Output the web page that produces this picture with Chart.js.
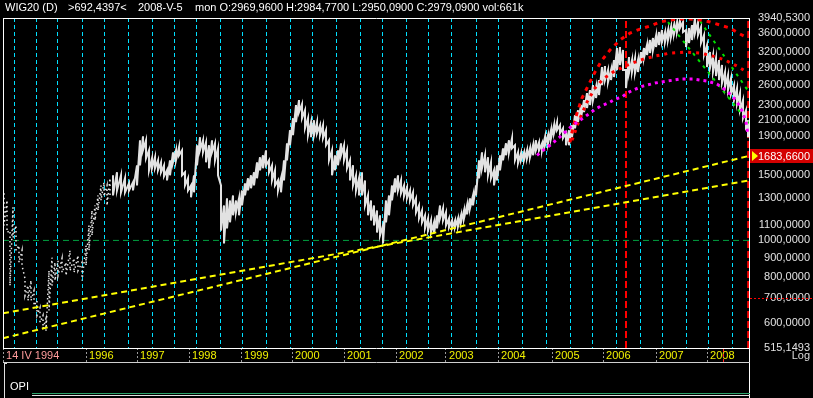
<!DOCTYPE html>
<html><head><meta charset="utf-8">
<script src="https://cdn.jsdelivr.net/npm/chart.js@4/dist/chart.umd.min.js"></script>
<style>html,body{margin:0;padding:0;background:#000;overflow:hidden}canvas{display:block}</style>
</head><body>
<canvas id="c" width="813" height="398"></canvas>
<script>
const FONT = '"Liberation Sans", Arial, sans-serif';

// x unit: trading session index counted from 14 IV 1994
const yearTicks  = [0, 415, 670, 930, 1190, 1445, 1705, 1965, 2215, 2475, 2745, 3000, 3265, 3520, 3730];
const yearLabels = [' 14 IV 1994',' 1996',' 1997',' 1998',' 1999',' 2000',' 2001',' 2002',' 2003',' 2004',' 2005',' 2006',' 2007',' 2008',''];
const gridTicks  = [55,165,275,395,505,625,745,855,965,1085,1195,1315,1435,1545,1665,1785,1895,2015,2125,2245,2365,2475,2595,2715,2835,2945,3065,3185,3295,3415,3525,3645];
const priceTicks = [515.1493, 600, 700, 800, 900, 1000, 1100, 1300, 1500, 1900, 2100, 2300, 2600, 2900, 3200, 3600, 3940.53];
const lastMarked = 1683.66;
const cursorSession = 3600;

// early sparse sessions (1994-1995)
const earlySess = [5,20,35,50,65,80,95,110,125,140,155,170,185,200,215,230,245,260,275,295,315,335,355,375,395,415,430,445,460,475,490,505,520,535];
const earlyHigh = [1337,1280,1063,1226,1097,969,940,790,757,781,734,690,661,630,618,830,900,873,883,895,873,940,895,911,873,969,1097,1203,1241,1320,1404,1431,1404,1467];
const earlyLow  = [1097,1050,757,1018,940,873,857,711,690,690,669,630,603,581,573,649,757,781,805,820,805,830,820,830,781,857,940,1031,1131,1203,1280,1312,1241,1296];

// WIG20 daily range samples
const sess = [
550,570,590,610,630,650,670,685,700,715,
730,745,760,775,790,805,820,835,850,865,
880,895,910,925,940,955,970,985,1000,1015,
1030,1045,1060,1075,1090,1105,1120,1135,1150,1165,
1180,1195,1210,1225,1240,1255,1270,1285,1300,1315,
1330,1345,1360,1375,1390,1405,1420,1435,1450,1465,
1480,1495,1510,1525,1540,1555,1570,1585,1600,1615,
1630,1645,1660,1675,1690,1705,1720,1735,1750,1765,
1780,1795,1810,1825,1840,1855,1870,1885,1900,1915,
1930,1945,1960,1975,1990,2005,2020,2035,2050,2065,
2080,2095,2110,2125,2140,2155,2170,2185,2200,2215,
2230,2245,2260,2275,2290,2305,2320,2335,2350,2365,
2380,2395,2410,2425,2440,2455,2470,2485,2500,2515,
2530,2545,2560,2575,2590,2605,2620,2635,2650,2665,
2680,2695,2710,2725,2740,2755,2770,2785,2800,2815,
2830,2845,2860,2875,2890,2905,2920,2935,2950,2965,
2980,2995,3010,3025,3040,3055,3070,3085,3100,3115,
3130,3145,3160,3175,3190,3205,3220,3235,3250,3265,
3280,3295,3310,3325,3340,3355,3370,3385,3400,3415,
3430,3445,3460,3475,3490,3505,3520,3535,3550,3565,
3580,3595,3610,3625,3640,3655,3670,3685,3700,3715,
3725];
const high = [
1494,1522,1494,1467,1422,1431,1589,1854,1901,1854,
1743,1659,1670,1639,1619,1589,1541,1639,1722,1743,
1776,1743,1522,1467,1404,1494,1798,1890,1854,1832,
1798,1854,1820,1765,1404,1241,1296,1280,1320,1280,
1296,1361,1422,1467,1494,1522,1619,1670,1690,1743,
1639,1589,1541,1448,1467,1639,1820,1973,2125,2303,
2375,2317,2232,2125,2073,2098,2073,2035,2035,1973,
1854,1743,1690,1743,1820,1798,1743,1639,1589,1494,
1467,1522,1448,1320,1280,1241,1203,1167,1097,1280,
1320,1404,1467,1494,1448,1404,1387,1361,1345,1296,
1241,1203,1167,1145,1131,1118,1167,1241,1219,1189,
1145,1131,1131,1145,1167,1203,1241,1296,1320,1404,
1639,1722,1690,1670,1619,1541,1589,1690,1765,1820,
1854,1878,1798,1722,1711,1722,1743,1765,1798,1854,
1832,1820,1890,1913,1973,2035,2073,2035,1997,1937,
1973,2035,2164,2232,2303,2375,2480,2526,2606,2574,
2687,2912,2930,2858,2858,3040,3274,3294,3234,2858,
3097,3040,3078,3040,3194,3274,3335,3440,3483,3526,
3614,3659,3614,3659,3727,3773,3844,3880,3844,3659,
3704,3773,3941,3844,3727,3548,3335,3194,3136,3078,
3040,2948,2823,2771,2721,2606,2558,2480,2375,2232,
2098];
const low = [
1320,1361,1345,1345,1361,1361,1404,1589,1743,1659,
1541,1560,1560,1541,1522,1485,1448,1494,1619,1639,
1690,1494,1404,1361,1304,1345,1589,1743,1722,1619,
1560,1722,1639,1494,1063,981,1077,1118,1167,1189,
1167,1241,1320,1361,1379,1404,1467,1541,1560,1589,
1522,1448,1404,1361,1345,1448,1639,1798,1913,2073,
2205,2125,1997,1913,1890,1913,1937,1913,1878,1798,
1639,1494,1541,1589,1690,1639,1560,1448,1404,1361,
1320,1320,1241,1167,1131,1097,1050,1031,981,1118,
1167,1280,1345,1361,1337,1312,1296,1280,1241,1189,
1145,1118,1077,1063,1050,1044,1077,1145,1131,1097,
1084,1077,1084,1090,1118,1145,1174,1219,1241,1320,
1467,1560,1522,1494,1467,1404,1448,1541,1639,1690,
1722,1765,1639,1609,1639,1639,1659,1670,1690,1743,
1743,1743,1798,1820,1878,1937,1973,1937,1878,1798,
1798,1890,1997,2073,2125,2205,2261,2303,2375,2405,
2450,2606,2687,2654,2687,2738,2858,2948,2858,2558,
2806,2823,2806,2823,2985,3078,3136,3175,3234,3294,
3335,3398,3398,3440,3504,3570,3614,3704,3614,3294,
3377,3440,3592,3548,3377,3136,2912,2894,2823,2754,
2687,2638,2574,2526,2465,2375,2317,2232,2125,1973,
1890];

// analysis overlays
const trendSteepSess = [0, 3730],  trendSteepVal = [547, 1683.66];
const trendFlatSess  = [0, 3730],  trendFlatVal  = [638, 1448];
const arcOuterSess = [2835,2850,2870,2895,2925,2960,2995,3035,3085,3135,3185,3235,3285,3335,3385,3435,3485,3535,3585,3635,3685,3725];
const arcOuterVal  = [1832,2010,2191,2405,2590,2823,3040,3234,3440,3592,3681,3750,3844,3892,3916,3916,3892,3844,3773,3704,3570,3483];
const arcInnerSess = [2845,2885,2920,2960,3000,3050,3110,3185,3260,3335,3410,3485,3550,3610,3670,3720];
const arcInnerVal  = [1854,2125,2346,2558,2704,2823,2930,3040,3116,3175,3194,3175,3116,3040,2930,2823];
const arcMagSess = [2670,2700,2735,2765,2795,2820,2850,2885,2920,2970,3000,3035,3060,3095,3120,3150,3200,3260,3320,3385,3450,3520,3570,3620,3650,3685,3700,3715,3725];
const arcMagVal  = [1690,1743,1798,1854,1913,1973,2035,2098,2164,2261,2303,2346,2390,2420,2480,2526,2590,2638,2671,2704,2704,2671,2622,2511,2420,2289,2191,2073,1925];
const green1Sess = [3325, 3730], green1Val = [3844, 2060];
const green2Sess = [3485, 3730], green2Val = [3868, 2495];
const level1000 = 1000;
const markerSess = 3115;
const X_MIN = 0, X_MAX = 3730, Y_MIN = 515.1493, Y_MAX = 3940.53;

const pts = (xs, ys) => xs.map((x, i) => ({x, y: ys[i]}));
const rangePts = (xs, hs, ls) => {
  const out = [];
  for (let i = 0; i < Math.min(xs.length, hs.length, ls.length); i++) {
    out.push({x: xs[i], y: hs[i]}, {x: xs[i], y: ls[i]});
  }
  return out;
};
const fmt = v => Number(v).toFixed(4).replace('.', ',');

const base = {xAxisID: 'x', yAxisID: 'y', pointRadius: 0, tension: 0, fill: false};
const datasets = [
  {...base, label: 'trend1', data: pts(trendSteepSess, trendSteepVal), borderColor: '#ffff00', borderWidth: 2, borderDash: [6, 4]},
  {...base, label: 'trend2', data: pts(trendFlatSess, trendFlatVal), borderColor: '#ffff00', borderWidth: 2, borderDash: [6, 4]},
  {...base, label: 'mag', data: pts(arcMagSess, arcMagVal), borderColor: '#ff00ff', borderWidth: 3, borderDash: [3, 4]},
  {...base, label: 'arcOuter', data: pts(arcOuterSess, arcOuterVal), borderColor: '#ff0000', borderWidth: 3, borderDash: [4, 5]},
  {...base, label: 'arcInner', data: pts(arcInnerSess, arcInnerVal), borderColor: '#ff0000', borderWidth: 3, borderDash: [3, 5]},
  {...base, label: 'g1', data: pts(green1Sess, green1Val), borderColor: '#00e000', borderWidth: 2, borderDash: [3, 5]},
  {...base, label: 'g2', data: pts(green2Sess, green2Val), borderColor: '#00e000', borderWidth: 2, borderDash: [3, 5]},
  {...base, label: 'WIG20', data: rangePts(sess, high, low), borderColor: '#e2e2e2', borderWidth: 2},
  {...base, label: 'WIG20early', data: rangePts(earlySess, earlyHigh, earlyLow), borderColor: '#e8e8e8', borderWidth: 1.5, borderDash: [1.5, 3]},
  {...base, label: 'marker', data: [{x: markerSess, y: Y_MIN}, {x: markerSess, y: Y_MAX}], borderColor: '#ff0000', borderWidth: 2, borderDash: [7, 3]},
  {...base, label: 'edge', data: [{x: X_MAX - 4, y: Y_MIN}, {x: X_MAX - 4, y: Y_MAX}], borderColor: '#ff0000', borderWidth: 2, borderDash: [7, 3]},
  {...base, label: 'lvl', data: [{x: X_MIN, y: level1000}, {x: X_MAX, y: level1000}], borderColor: '#00a040', borderWidth: 1, borderDash: [6, 4]}
];

const L = (c, x1, y1, x2, y2, col, w, dash) => {
  c.save(); c.strokeStyle = col; c.lineWidth = w || 1; c.setLineDash(dash || []);
  c.beginPath(); c.moveTo(x1, y1); c.lineTo(x2, y2); c.stroke(); c.restore();
};

const deco = {
  id: 'deco',
  beforeDraw(chart) {
    const c = chart.ctx; c.save(); c.fillStyle = '#000'; c.fillRect(0, 0, chart.width, chart.height); c.restore();
  },
  afterDraw(chart) {
    const c = chart.ctx, a = chart.chartArea, ys = chart.scales.y, xs = chart.scales.x;
    const W = chart.width;
    c.save();
    // header
    c.font = '11px ' + FONT; c.fillStyle = '#ffffff'; c.textBaseline = 'middle'; c.textAlign = 'left';
    c.fillText('WIG20 (D)', 5, 8);
    c.fillText('>692,4397<', 68, 8);
    c.fillText('2008-V-5', 138, 8);
    c.fillText('mon O:2969,9600 H:2984,7700 L:2950,0900 C:2979,0900 vol:661k', 195, 8);
    // frame
    L(c, a.left, a.top + 0.5, a.right + 1, a.top + 0.5, '#ffffff');
    L(c, a.left + 0.5, a.top, a.left + 0.5, a.bottom, '#ffffff');
    L(c, a.right + 0.5, a.top, a.right + 0.5, 398, '#ffffff');
    L(c, a.left, a.bottom + 0.5, a.right + 1, a.bottom + 0.5, '#ffffff');
    L(c, a.left, 362.5, a.right + 1, 362.5, '#d0d0d0');
    // cursor mark in date row
    const cx = Math.round(xs.getPixelForValue(cursorSession)) + 0.5;
    L(c, cx, a.bottom + 1, cx, 362, '#ff2020', 1, [3, 2]);
    // OPI panel
    L(c, 4.5, 363, 4.5, 398, '#e0e0e0');
    L(c, 4, 363.5, 7, 363.5, '#e0e0e0');
    c.fillStyle = '#ffffff'; c.font = '11px ' + FONT; c.textAlign = 'left';
    c.fillText('OPI', 10, 387);
    L(c, 32, 393.5, a.right + 1, 393.5, '#2aa36a');
    L(c, 32, 395.5, a.right + 1, 395.5, '#e0e0e0');
    // red dotted level at 700 on the axis
    const y7 = Math.round(ys.getPixelForValue(700)) + 0.5;
    L(c, a.right + 1, y7, W, y7, '#ff0000', 1, [2, 2]);
    // last marked value box
    const yl = Math.round(ys.getPixelForValue(lastMarked));
    c.fillStyle = '#d40000'; c.fillRect(a.right + 1, yl - 7, W - a.right - 1, 14);
    c.fillStyle = '#ffff00'; c.beginPath();
    c.moveTo(a.right + 3, yl - 5); c.lineTo(a.right + 3, yl + 5); c.lineTo(a.right + 9, yl); c.closePath(); c.fill();
    c.fillStyle = '#ffffff'; c.textAlign = 'right'; c.fillText(fmt(lastMarked), W - 3, yl + 0.5);
    // scale type
    c.fillStyle = '#dcdcdc'; c.fillText('Log', W - 3, 356);
    c.restore();
  }
};

Chart.defaults.font.family = FONT;
new Chart(document.getElementById('c'), {
  type: 'line',
  data: {datasets},
  plugins: [deco],
  options: {
    responsive: false, animation: false, devicePixelRatio: 1,
    layout: {padding: {top: 18, left: 3, right: 3, bottom: 0}},
    plugins: {legend: {display: false}, tooltip: {enabled: false}},
    scales: {
      x: {
        type: 'linear', min: X_MIN, max: X_MAX, position: 'bottom', weight: 1,
        afterBuildTicks: s => { s.ticks = gridTicks.map(v => ({value: v})); },
        afterFit: s => { s.height = 0; },
        ticks: {display: false},
        grid: {color: 'rgb(0,224,255)', lineWidth: 1, drawTicks: false},
        border: {display: false, dash: [4, 3]}
      },
      x2: {
        type: 'linear', min: X_MIN, max: X_MAX, position: 'bottom', weight: 0,
        afterBuildTicks: s => { s.ticks = yearTicks.map(v => ({value: v})); },
        afterFit: s => { s.height = 50; },
        ticks: {
          autoSkip: false, maxRotation: 0, minRotation: 0, align: 'start', padding: -13,
          color: ctx => ctx.index === 0 ? '#ff9c9c' : '#f2f200',
          font: {family: FONT, size: 11},
          callback: (v, i) => yearLabels[i]
        },
        grid: {drawOnChartArea: false, drawTicks: true, tickLength: 14, tickColor: '#9a9a9a', tickBorderDash: [2, 2], tickWidth: 1, color: 'rgba(0,0,0,0)'},
        border: {display: false}
      },
      y: {
        type: 'logarithmic', position: 'right', min: Y_MIN, max: Y_MAX,
        afterBuildTicks: s => { s.ticks = priceTicks.map(v => ({value: v})); },
        afterFit: s => { s.width = 61; },
        ticks: {autoSkip: false, color: '#e2e2e2', font: {family: FONT, size: 11}, crossAlign: 'far', padding: 0, callback: v => fmt(v)},
        grid: {display: false},
        border: {display: false}
      }
    }
  }
});
</script>
</body></html>
